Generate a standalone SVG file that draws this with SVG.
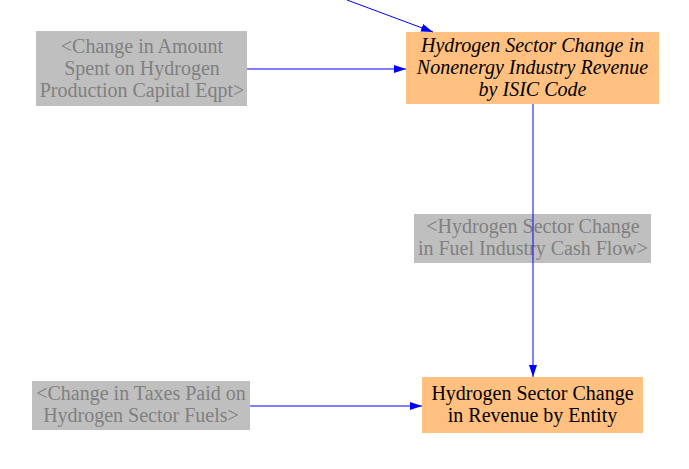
<svg xmlns="http://www.w3.org/2000/svg" width="689" height="469" viewBox="0 0 689 469">
<style>
.ghost rect{fill:#bfbfbf;}
.ghost text{fill:#808080;}
.var rect{fill:#ffc080;}
.var text{fill:#000000;}
text{font-family:"Liberation Serif","Times New Roman",serif;font-size:20px;text-anchor:middle;}
.it{font-style:italic;}
.conn{stroke:#0000ff;stroke-width:1;fill:none;marker-end:url(#ah);}
</style>
<defs>
<marker id="ah" viewBox="0 0 12 8" refX="12" refY="4" markerWidth="12" markerHeight="8" markerUnits="userSpaceOnUse" orient="auto">
<path d="M0,0 L12,4 L0,8 Z" fill="#0000ff"/>
</marker>
</defs>
<g id="n_amount" class="ghost">
<rect x="36" y="31" width="211" height="75"/>
<text x="142" y="53">&lt;Change in Amount</text>
<text x="142" y="75">Spent on Hydrogen</text>
<text x="142" y="97">Production Capital Eqpt&gt;</text>
</g>
<g id="n_nonenergy" class="var">
<rect x="406" y="32" width="253" height="72"/>
<text class="it" x="532.5" y="52">Hydrogen Sector Change in</text>
<text class="it" x="532.5" y="74">Nonenergy Industry Revenue</text>
<text class="it" x="532.5" y="96">by ISIC Code</text>
</g>
<g id="n_cashflow" class="ghost">
<rect x="414" y="214" width="237" height="49"/>
<text x="533" y="233">&lt;Hydrogen Sector Change</text>
<text x="533" y="255">in Fuel Industry Cash Flow&gt;</text>
</g>
<g id="n_taxes" class="ghost">
<rect x="32" y="381" width="218" height="49"/>
<text x="141" y="400">&lt;Change in Taxes Paid on</text>
<text x="141" y="422">Hydrogen Sector Fuels&gt;</text>
</g>
<g id="n_entity" class="var">
<rect x="422" y="377" width="221" height="56"/>
<text x="532.5" y="400">Hydrogen Sector Change</text>
<text x="532.5" y="422">in Revenue by Entity</text>
</g>
<g id="connectors">
<path class="conn" d="M347,0 L433,32"/>
<path class="conn" d="M247,69 L406,69"/>
<path class="conn" d="M533,104 L533,377"/>
<path class="conn" d="M250,406 L422,406"/>
</g>
</svg>
